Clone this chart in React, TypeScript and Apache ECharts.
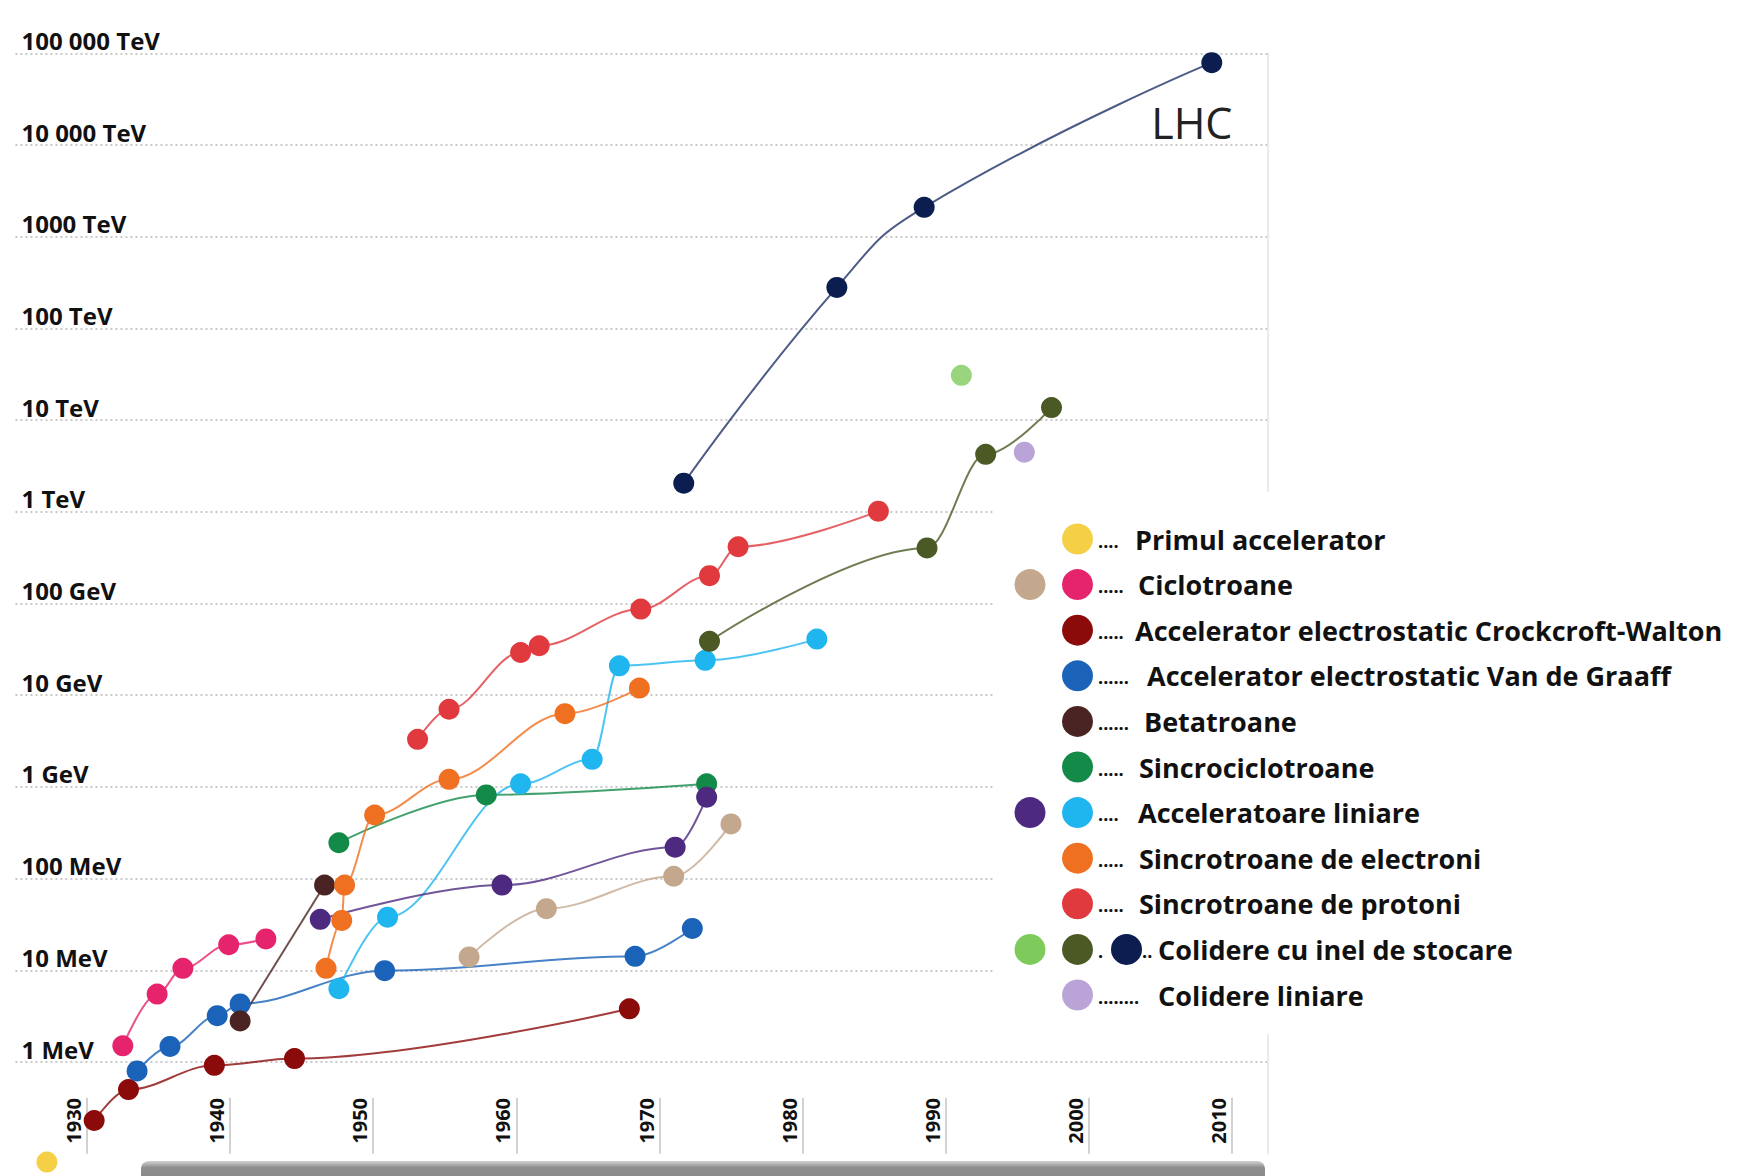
import React, { useEffect, useRef } from "react";
import * as echarts from "echarts";

const FONT = '"Open Sans", "Noto Sans", "DejaVu Sans", sans-serif';

// ---- axes ----
const yearTicks = [1930, 1940, 1950, 1960, 1970, 1980, 1990, 2000, 2010];
// label for 10^k MeV, k = 0..11
const energyLabels = [
  "1 MeV", "10 MeV", "100 MeV", "1 GeV", "10 GeV", "100 GeV",
  "1 TeV", "10 TeV", "100 TeV", "1000 TeV", "10 000 TeV", "100 000 TeV",
];

// ---- data (year, energy in MeV) ----
const primulYears = [1927.2];
const primulEnergy = [0.081];

const ciclotroaneYears = [1932.5, 1934.9, 1936.7, 1939.9, 1942.5];
const ciclotroaneEnergy = [1.5, 5.5, 10.5, 19, 22];

const ciclotroaneIzoYears = [1956.7, 1962.1, 1971.0, 1975.0];
const ciclotroaneIzoEnergy = [14, 47, 106, 395];

const cockcroftYears = [1930.5, 1932.9, 1938.9, 1944.5, 1967.9];
const cockcroftEnergy = [0.23, 0.5, 0.92, 1.09, 3.8];

const vanDeGraaffYears = [1933.5, 1935.8, 1939.1, 1940.7, 1950.8, 1968.3, 1972.3];
const vanDeGraaffEnergy = [0.8, 1.48, 3.2, 4.3, 9.9, 14.2, 28.6];

const betatronYears = [1940.7, 1946.6];
const betatronEnergy = [2.8, 85];

const sincrocicloYears = [1947.6, 1957.9, 1973.3];
const sincrocicloEnergy = [246, 818, 1080];

const linacYears = [1947.6, 1951.0, 1960.3, 1965.3, 1967.2, 1973.2, 1981.0];
const linacEnergy = [6.3, 38, 1080, 2000, 20900, 24000, 40900];

const linacIonYears = [1946.3, 1959.0, 1971.1, 1973.3];
const linacIonEnergy = [36, 85, 220, 773];

const sincroElYears = [1946.7, 1947.8, 1948.0, 1950.1, 1955.3, 1963.4, 1968.6];
const sincroElEnergy = [10.5, 35, 85, 494, 1210, 6290, 11960];

const sincroProtYears = [1953.1, 1955.3, 1960.3, 1961.6, 1968.7, 1973.5, 1975.5, 1985.3];
const sincroProtEnergy = [3300, 7030, 29200, 34600, 86900, 201000, 416000, 1016000];

const colinelYears = [1973.5, 1988.7, 1992.8, 1997.4];
const colinelEnergy = [38700, 404000, 4230000, 13700000];

const colinelHadronYears = [1991.1];
const colinelHadronEnergy = [30800000];

const colinelMaxYears = [1971.7, 1982.4, 1988.5, 2008.6];
const colinelMaxEnergy = [2050000, 280000000, 2090000000, 79000000000];

const colLiniareYears = [1995.5];
const colLiniareEnergy = [4470000];

// ---- colours ----
const C_YELLOW = "#f2c418";
const C_PINK = "#e6246e";
const C_TAN = "#c4a88e";
const C_DARKRED = "#8b0a0a";
const C_BLUE = "#1a63b8";
const C_BROWN = "#4a2423";
const C_GREEN = "#138a48";
const C_LIGHTBLUE = "#1fb5ef";
const C_PURPLE = "#4d2a80";
const C_ORANGE = "#f07022";
const C_RED = "#e03a3e";
const C_OLIVE = "#4b5a25";
const C_LIGHTGREEN = "#7ecb5b";
const C_NAVY = "#0b1e4f";
const C_LAVENDER = "#a98ccc";

// ---- legend ----
const legendNames = [
  "Primul accelerator",
  "Ciclotroane",
  "Accelerator electrostatic Crockcroft-Walton",
  "Accelerator electrostatic Van de Graaff",
  "Betatroane",
  "Sincrociclotroane",
  "Acceleratoare liniare",
  "Sincrotroane de electroni",
  "Sincrotroane de protoni",
  "Colidere cu inel de stocare",
  "Colidere liniare",
];
const legendLeaders = ["....", ".....", ".....", "......", "......", ".....", "....", ".....", ".....", "", "........"];
const legendLeaderWidths = [37, 40, 37, 49, 46, 41, 40, 41, 41, 0, 60];
const legendExtraDots = [
  { row: 1, color: C_TAN },
  { row: 6, color: C_PURPLE },
  { row: 9, color: C_LIGHTGREEN },
];

const LEG_LEFT = 995;
const LEG_TOP = 492;
const LEG_FIRST_CENTER = 539;
const LEG_ITEM = 31;
const LEG_PITCH = 45.6;
const LEG_ICON_LEFT = 1062;
const LABEL_SHIFT_YEARS = 0.936;

const toPoints = (years: number[], energies: number[]) =>
  years.map((y, i) => [y, Math.log10(energies[i])]);

function lineSeries(name: string, color: string, years: number[], energies: number[], extra: any = {}) {
  return {
    type: "line",
    name,
    data: toPoints(years, energies),
    smooth: 0.35,
    smoothMonotone: "x",
    symbol: "circle",
    symbolSize: 21,
    showSymbol: true,
    showAllSymbol: true,
    clip: false,
    itemStyle: { color },
    lineStyle: { color, width: 2, opacity: 0.8 },
    emphasis: { disabled: true },
    ...extra,
  };
}

function scatterSeries(name: string, color: string, years: number[], energies: number[]) {
  return {
    type: "scatter",
    name,
    data: toPoints(years, energies),
    symbol: "circle",
    symbolSize: 21,
    clip: false,
    itemStyle: { color },
    emphasis: { disabled: true },
  };
}

export default function App() {
  const ref = useRef<HTMLDivElement>(null);

  useEffect(() => {
    if (!ref.current) return;
    const chart = echarts.init(ref.current, null, { renderer: "svg" });

    const navyPoints: any[] = toPoints(colinelMaxYears, colinelMaxEnergy);
    const last = navyPoints.length - 1;
    navyPoints[last] = {
      value: navyPoints[last],
      label: {
        show: true,
        formatter: "LHC",
        position: "inside",
        offset: [-20, 60],
        fontFamily: FONT,
        fontSize: 43,
        fontWeight: "normal",
        color: "#222",
      },
    };

    const dotStyle = {
      fontFamily: FONT, fontSize: 18, fontWeight: "bold", color: "#111",
      align: "left", verticalAlign: "bottom", lineHeight: 18, padding: [0, 0, 5, 0],
    };
    const rich: any = {
      a: { ...dotStyle, width: 13 },
      b: { ...dotStyle, width: 16 },
      n: { width: 31, height: 31, backgroundColor: C_NAVY, borderRadius: 15.5 },
    };
    legendLeaderWidths.forEach((w, i) => {
      rich["L" + i] = { ...dotStyle, width: w };
    });

    const option: any = {
      animation: false,
      backgroundColor: "#ffffff",
      grid: {
        left: 15.45,
        right: 476.4,
        top: 53.3,
        bottom: 22.3,
        containLabel: false,
        outerBoundsMode: "none",
      },
      xAxis: [
        {
          type: "value",
          position: "bottom",
          min: 1925,
          max: 2012.5,
          splitLine: { show: false },
          axisLine: { show: false, onZero: false },
          axisTick: {
            show: true,
            inside: true,
            length: 56,
            customValues: yearTicks,
            lineStyle: { color: "#d2d2d2", width: 2 },
          },
          axisLabel: { show: false },
        },
        {
          type: "value",
          position: "bottom",
          offset: 0,
          min: 1925 + LABEL_SHIFT_YEARS,
          max: 2012.5 + LABEL_SHIFT_YEARS,
          splitLine: { show: false },
          axisLine: { show: false, onZero: false },
          axisTick: { show: false },
          axisLabel: {
            show: true,
            inside: true,
            rotate: 90,
            margin: 10,
            customValues: yearTicks,
            fontFamily: FONT,
            fontSize: 20,
            fontWeight: "bold",
            color: "#111",
            formatter: (v: number) => String(v),
          },
        },
      ],
      yAxis: [
        {
          type: "value",
          min: -1,
          max: 11,
          interval: 1,
          axisLine: { show: false },
          axisTick: { show: false },
          splitLine: {
            show: true,
            showMinLine: false,
            lineStyle: { color: "#c9c9c9", width: 2, type: [2, 3] },
          },
          axisLabel: {
            inside: true,
            margin: 6,
            showMaxLabel: true,
            verticalAlign: "bottom",
            fontFamily: FONT,
            fontSize: 24,
            fontWeight: "bold",
            color: "#111",
            lineHeight: 26,
            formatter: (v: number) => (v >= 0 ? energyLabels[Math.round(v)] ?? "" : ""),
          },
        },
        {
          type: "value",
          position: "right",
          min: -1,
          max: 11,
          interval: 1,
          axisLine: { show: true, onZero: false, lineStyle: { color: "#e4e4e4", width: 1.5 } },
          axisTick: { show: false },
          axisLabel: { show: false },
          splitLine: { show: false },
        },
      ],
      legend: {
        show: true,
        orient: "vertical",
        left: LEG_LEFT,
        top: LEG_TOP,
        icon: "circle",
        itemWidth: LEG_ITEM,
        itemHeight: LEG_ITEM,
        itemGap: LEG_PITCH - LEG_ITEM,
        padding: [LEG_FIRST_CENTER - LEG_ITEM / 2 - LEG_TOP, 8, 23.5, LEG_ICON_LEFT - LEG_LEFT],
        backgroundColor: "#ffffff",
        selectedMode: false,
        data: legendNames,
        formatter: (name: string) => {
          const i = legendNames.indexOf(name);
          if (i === 9) return `{a|.}{n| }{b|..}${name}`;
          return `{L${i}|${legendLeaders[i]}}${name}`;
        },
        textStyle: {
          fontFamily: FONT,
          fontSize: 27,
          fontWeight: "bold",
          color: "#111",
          lineHeight: 31,
          rich,
        },
      },
      graphic: {
        elements: [
          {
            type: "rect",
            silent: true,
            z: 100,
            shape: { x: 141, y: 1161, width: 1124, height: 26, r: 8 },
            style: {
              fill: new echarts.graphic.LinearGradient(0, 0, 0, 1, [
                { offset: 0, color: "#d2d2d2" },
                { offset: 0.25, color: "#8e8e8e" },
                { offset: 1, color: "#868686" },
              ]),
            },
          },
          ...legendExtraDots.map((d) => ({
            type: "circle",
            silent: true,
            z: 100,
            shape: { cx: 1030, cy: LEG_FIRST_CENTER + d.row * LEG_PITCH, r: LEG_ITEM / 2 },
            style: { fill: d.color },
          })),
        ],
      },
      series: [
        lineSeries(legendNames[2], C_DARKRED, cockcroftYears, cockcroftEnergy),
        lineSeries(legendNames[3], C_BLUE, vanDeGraaffYears, vanDeGraaffEnergy),
        lineSeries(legendNames[1], C_PINK, ciclotroaneYears, ciclotroaneEnergy),
        lineSeries(legendNames[1], C_TAN, ciclotroaneIzoYears, ciclotroaneIzoEnergy),
        lineSeries(legendNames[4], C_BROWN, betatronYears, betatronEnergy, { smooth: false }),
        lineSeries(legendNames[5], C_GREEN, sincrocicloYears, sincrocicloEnergy),
        lineSeries(legendNames[6], C_LIGHTBLUE, linacYears, linacEnergy),
        lineSeries(legendNames[6], C_PURPLE, linacIonYears, linacIonEnergy),
        lineSeries(legendNames[7], C_ORANGE, sincroElYears, sincroElEnergy),
        lineSeries(legendNames[8], C_RED, sincroProtYears, sincroProtEnergy),
        lineSeries(legendNames[9], C_OLIVE, colinelYears, colinelEnergy),
        scatterSeries(legendNames[9], C_LIGHTGREEN, colinelHadronYears, colinelHadronEnergy),
        {
          ...lineSeries(legendNames[9], C_NAVY, colinelMaxYears, colinelMaxEnergy),
          data: navyPoints,
          smooth: 0.5,
          smoothMonotone: undefined,
          lineStyle: { color: "#3a4a78", width: 2, opacity: 0.9 },
        },
        scatterSeries(legendNames[10], C_LAVENDER, colLiniareYears, colLiniareEnergy),
        scatterSeries(legendNames[0], C_YELLOW, primulYears, primulEnergy),
      ],
    };

    chart.setOption(option);
    return () => chart.dispose();
  }, []);

  return (
    <div
      ref={ref}
      style={{ position: "fixed", left: 0, top: 0, width: 1744, height: 1176, background: "#fff" }}
    />
  );
}
